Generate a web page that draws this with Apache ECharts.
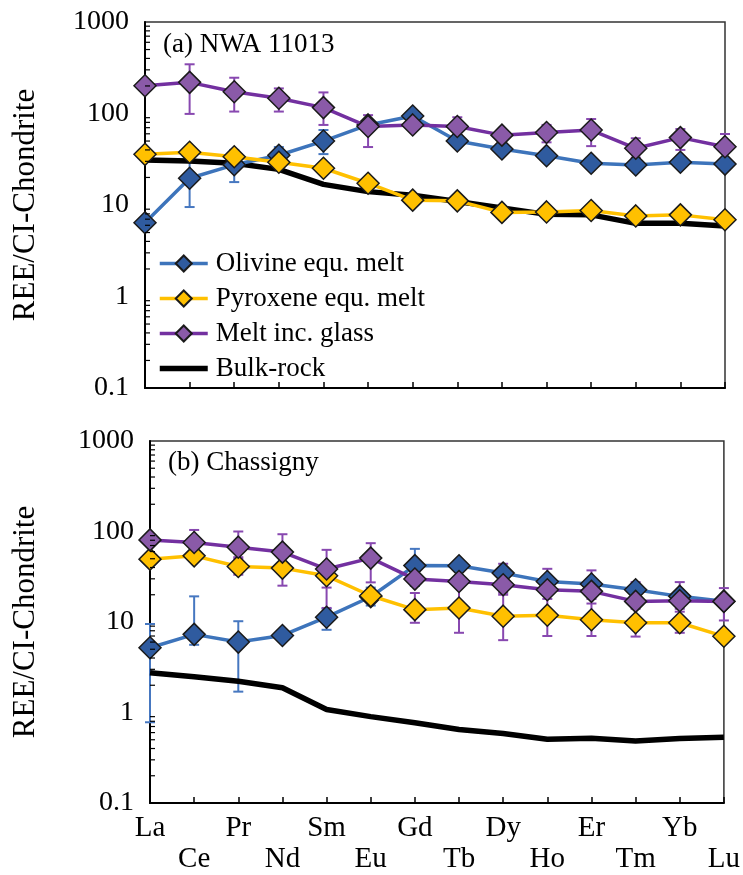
<!DOCTYPE html>
<html>
<head>
<meta charset="utf-8">
<script src="https://cdn.jsdelivr.net/npm/echarts@6/dist/echarts.min.js"></script>
<style>
html, body { margin: 0; padding: 0; background: #fff; }
#chart { width: 743px; height: 875px; }
</style>
</head>
<body>
<div id="chart"></div>
<script>
// Rare earth elements along the x axis (Pm omitted)
const elements = ['La', 'Ce', 'Pr', 'Nd', 'Sm', 'Eu', 'Gd', 'Tb', 'Dy', 'Ho', 'Er', 'Tm', 'Yb', 'Lu'];
const seriesNames = ['Olivine equ. melt', 'Pyroxene equ. melt', 'Melt inc. glass', 'Bulk-rock'];

// (a) NWA 11013, CI-normalised abundances
const nwaOlivine  = [6.4, 19.6, 27.5, 35, 50, 75, 94, 50, 41, 34.6, 28.6, 27.4, 29.3, 28];
const nwaPyroxene = [35.8, 37.7, 33.7, 29.3, 25.2, 17.3, 11.3, 11.1, 8.3, 8.4, 8.7, 7.6, 7.8, 6.9];
const nwaGlass    = [201, 219, 173, 147, 116, 72, 75, 72, 58, 62, 66, 41.7, 54.5, 43.4];
const nwaBulk     = [31, 30.3, 28.6, 24.5, 16.8, 14, 12.8, 10.9, 9.3, 7.9, 7.8, 6.3, 6.3, 5.9];
// error ranges: [element, low, high]
const nwaOlivineErr = [['Ce', 9.5, 37], ['Pr', 17.8, 40], ['Nd', 26, 43], ['Sm', 36, 66]];
const nwaGlassErr = [['Ce', 99, 345], ['Pr', 105, 246], ['Nd', 105, 188], ['Sm', 75, 170], ['Eu', 43, 96],
  ['Tb', 57, 91], ['Ho', 48.4, 75], ['Er', 44, 87], ['Tm', 33, 53.6], ['Yb', 40, 67.7], ['Lu', 32, 59.7]];

// (b) Chassigny, CI-normalised abundances
const chaOlivine  = [5.2, 7.3, 6.0, 7.1, 11.3, 19, 42, 41.8, 34.7, 28, 26.3, 22.7, 19.2, 17];
const chaPyroxene = [49.5, 53.8, 41.1, 39.4, 32.4, 19.5, 13.7, 14.3, 11.6, 11.9, 10.6, 9.8, 9.8, 6.95];
const chaGlass    = [80.8, 75.5, 67.1, 59.2, 38.5, 50.8, 29.8, 28, 25.8, 22.7, 21.8, 16.9, 17.2, 16.9];
const chaBulk     = [2.75, 2.48, 2.22, 1.88, 1.08, 0.9, 0.77, 0.65, 0.585, 0.507, 0.52, 0.485, 0.515, 0.533];
const chaOlivineErr = [['La', 0.78, 9.5], ['Ce', 5.6, 19.2], ['Pr', 1.7, 10.2], ['Sm', 8.2, 14],
  ['Eu', 15.2, 24], ['Gd', 25, 64.3]];
const chaGlassErr = [['Ce', 58, 104], ['Pr', 52, 100], ['Nd', 42, 93.3], ['Sm', 24, 62.7], ['Eu', 27.4, 74.3],
  ['Dy', 20, 44], ['Ho', 18, 38.7], ['Er', 18, 37.2], ['Tm', 14, 27.6], ['Yb', 14, 27.6], ['Lu', 10.4, 23.7]];
const chaPyroxeneErr = [['Pr', 33.3, 50], ['Nd', 25.2, 60], ['Sm', 14.3, 40], ['Gd', 9.8, 20.9], ['Tb', 7.6, 26],
  ['Dy', 6.3, 21], ['Ho', 7, 20], ['Er', 7, 16], ['Tm', 6.9, 15], ['Yb', 7.6, 13]];

// Log-axis labels and minor tick positions
const yTickLabels = ['0.1', '1', '10', '100', '1000'];
const minorMultipliers = [2, 3, 4, 5, 6, 7, 8, 9];
const decades = [0.1, 1, 10, 100];

const FONT = '"Liberation Serif", "Times New Roman", serif';
const C = {
  olivine:  { line: '#3d74bb', fill: '#2f5b9f' },
  pyroxene: { line: '#ffc000', fill: '#ffc000' },
  glass:    { line: '#7330a0', fill: '#8a5aa8' }
};
const ERR_BLUE = '#4677c0';
const ERR_PURPLE = '#8848b0';

const minorTickValues = [];
decades.forEach(d => minorMultipliers.forEach(m => minorTickValues.push(+(d * m).toPrecision(3))));

function meltSeries(name, values, gi, c, z) {
  return {
    type: 'line', name, data: values, xAxisIndex: gi, yAxisIndex: gi, z,
    symbol: 'diamond', symbolSize: 22,
    lineStyle: { color: c.line, width: 3.5 },
    itemStyle: { color: c.fill, borderColor: '#1a1a1a', borderWidth: 1.5 },
    emphasis: { disabled: true }
  };
}

function bulkSeries(values, gi) {
  return {
    type: 'line', name: 'Bulk-rock', data: values, xAxisIndex: gi, yAxisIndex: gi, z: 2,
    symbol: 'none',
    lineStyle: { color: '#000', width: 5.5 },
    itemStyle: { color: '#000' },
    emphasis: { disabled: true }
  };
}

function errorSeries(rows, gi, color) {
  return {
    type: 'custom', xAxisIndex: gi, yAxisIndex: gi, z: 1, silent: true, clip: false,
    data: rows, encode: { x: 0, y: [1, 2] },
    renderItem(params, api) {
      const hi = api.coord([api.value(0), api.value(2)]);
      const lo = api.coord([api.value(0), api.value(1)]);
      const w = 5;
      const st = { stroke: color, lineWidth: 2 };
      return {
        type: 'group', children: [
          { type: 'line', shape: { x1: hi[0], y1: hi[1], x2: lo[0], y2: lo[1] }, style: st },
          { type: 'line', shape: { x1: hi[0] - w, y1: hi[1], x2: hi[0] + w, y2: hi[1] }, style: st },
          { type: 'line', shape: { x1: lo[0] - w, y1: lo[1], x2: lo[0] + w, y2: lo[1] }, style: st }
        ]
      };
    }
  };
}

// short inward ticks at 2..9 of every decade on the log axis
function minorTickSeries(gi) {
  return {
    type: 'custom', xAxisIndex: gi, yAxisIndex: gi, z: 6, silent: true, clip: false,
    data: minorTickValues.map(v => ['La', v]), encode: { x: 0, y: 1 },
    renderItem(params, api) {
      const p = api.coord([api.value(0), api.value(1)]);
      return { type: 'line', shape: { x1: p[0], y1: p[1], x2: p[0] + 5, y2: p[1] },
               style: { stroke: '#000', lineWidth: 1.2 } };
    }
  };
}

function xAxis(gi, showLabels) {
  return {
    type: 'category', gridIndex: gi, data: elements, boundaryGap: false,
    axisLine: { lineStyle: { color: '#000', width: 2 } },
    axisTick: { inside: true, length: 6, interval: 0, lineStyle: { color: '#000', width: 1.5 } },
    axisLabel: showLabels ? {
      interval: 0, margin: 10, fontFamily: FONT, fontSize: 29, color: '#000', lineHeight: 31,
      formatter: (v, i) => (i % 2 ? '\n' + v : v)
    } : { show: false },
    splitLine: { show: false }
  };
}

function yAxis(gi, gap) {
  return {
    type: 'log', gridIndex: gi, logBase: 10, min: 0.1, max: 1000,
    axisLine: { show: true, lineStyle: { color: '#000', width: 2 } },
    axisTick: { inside: true, length: 8, lineStyle: { color: '#000', width: 1.5 } },
    axisLabel: {
      fontFamily: FONT, fontSize: 28, color: '#000', margin: 16,
      formatter: v => {
        const s = String(+(+v).toPrecision(3));
        return yTickLabels.includes(s) ? s : '';
      }
    },
    splitLine: { show: false },
    name: 'REE/CI-Chondrite', nameLocation: 'middle', nameGap: gap,
    nameTextStyle: { fontFamily: FONT, fontSize: 31, color: '#000' }
  };
}

const titleStyle = { fontFamily: FONT, fontSize: 27, fontWeight: 'normal', color: '#000' };

const option = {
  animation: false,
  backgroundColor: '#fff',
  title: [
    { text: '(a) NWA 11013', left: 163, top: 31, padding: 0, textStyle: titleStyle },
    { text: '(b) Chassigny', left: 168, top: 449, padding: 0, textStyle: titleStyle }
  ],
  legend: {
    orient: 'vertical', left: 157, top: 250, padding: 0,
    itemWidth: 48, itemHeight: 20, itemGap: 8,
    lineStyle: { width: 'inherit' },
    data: [
      seriesNames[0], seriesNames[1], seriesNames[2],
      { name: seriesNames[3], itemStyle: { opacity: 0 } }
    ],
    textStyle: { fontFamily: FONT, fontSize: 27, color: '#000', lineHeight: 27, padding: [0, 0, 0, 3] }
  },
  grid: [
    { left: 145, top: 22, width: 580, height: 366, show: true, borderColor: '#333', borderWidth: 1.5, backgroundColor: 'transparent' },
    { left: 150, top: 441, width: 580, height: 363, show: true, borderColor: '#333', borderWidth: 1.5, backgroundColor: 'transparent' }
  ],
  xAxis: [xAxis(0, false), xAxis(1, true)],
  yAxis: [yAxis(0, 104), yAxis(1, 109)],
  series: [
    errorSeries(nwaOlivineErr, 0, ERR_BLUE),
    errorSeries(nwaGlassErr, 0, ERR_PURPLE),
    bulkSeries(nwaBulk, 0),
    meltSeries(seriesNames[0], nwaOlivine, 0, C.olivine, 3),
    meltSeries(seriesNames[1], nwaPyroxene, 0, C.pyroxene, 4),
    meltSeries(seriesNames[2], nwaGlass, 0, C.glass, 5),
    minorTickSeries(0),

    errorSeries(chaOlivineErr, 1, ERR_BLUE),
    errorSeries(chaGlassErr, 1, ERR_PURPLE),
    errorSeries(chaPyroxeneErr, 1, ERR_PURPLE),
    bulkSeries(chaBulk, 1),
    meltSeries(seriesNames[0], chaOlivine, 1, C.olivine, 3),
    meltSeries(seriesNames[1], chaPyroxene, 1, C.pyroxene, 4),
    meltSeries(seriesNames[2], chaGlass, 1, C.glass, 5),
    minorTickSeries(1)
  ]
};

const chart = echarts.init(document.getElementById('chart'), null, { renderer: 'canvas' });
chart.setOption(option);
</script>
</body>
</html>
